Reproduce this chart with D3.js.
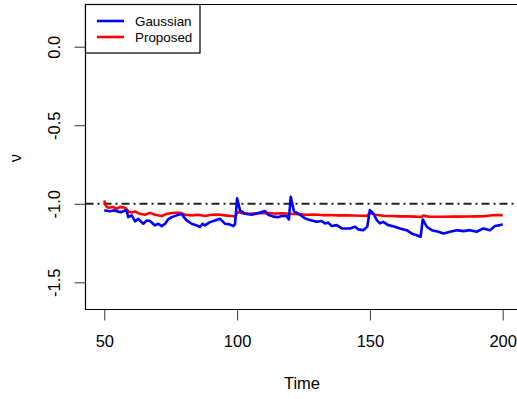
<!DOCTYPE html>
<html>
<head>
<meta charset="utf-8">
<script src="https://cdn.jsdelivr.net/npm/d3@7"></script>
<style>
  body { margin: 0; background: #fff; }
  text { font-family: "Liberation Sans", Arial, sans-serif; }
</style>
</head>
<body>
<div id="main-vis"></div>
<script>
// values (time, nu)
const gaussT = [50, 51, 52, 53, 54, 55, 56.5, 57.5, 58.4, 59, 60.3, 61.6, 62.8, 64.7, 66, 67.2, 69.1, 70.3, 71.6, 72.9,
  74, 75.4, 77.3, 79.1, 80, 81, 82.9, 84.8, 86, 87, 87.9, 89.8, 91.7, 93.6, 95.4, 97.3, 98.6, 99.2, 100, 101.1,
  103, 105.5, 108, 110.5, 111.7, 113.6, 115.5, 116.8, 118.7, 119.5, 120.2, 121.4, 123, 125.6, 127.4, 130, 131.8, 133.1, 134.3, 135.6,
  137.5, 139.4, 142.5, 144.4, 145.6, 147.5, 149, 150, 151.3, 152.6, 153.8, 155, 156.9, 159.4, 161.3, 163.8, 165.7, 167.6, 169.1, 169.9,
  171.4, 173.3, 175.8, 177.7, 180.2, 182.7, 185.2, 187.7, 190.2, 192.7, 195.2, 197.1, 199, 200]
const gaussV = [-1.042, -1.045, -1.048, -1.045, -1.042, -1.05, -1.053, -1.045, -1.042, -1.085, -1.074, -1.112, -1.096, -1.127, -1.106, -1.11, -1.138, -1.127, -1.142, -1.127,
  -1.1, -1.085, -1.074, -1.064, -1.085, -1.106, -1.127, -1.138, -1.148, -1.127, -1.138, -1.117, -1.106, -1.096, -1.127, -1.132, -1.142, -1.13, -0.965, -1.042,
  -1.064, -1.07, -1.058, -1.046, -1.07, -1.082, -1.085, -1.078, -1.078, -1.1, -0.955, -1.048, -1.062, -1.093, -1.104, -1.115, -1.11, -1.125, -1.12, -1.142,
  -1.136, -1.157, -1.157, -1.146, -1.163, -1.168, -1.146, -1.04, -1.062, -1.104, -1.125, -1.115, -1.136, -1.147, -1.157, -1.168, -1.189, -1.2, -1.21, -1.1,
  -1.146, -1.168, -1.178, -1.189, -1.178, -1.168, -1.174, -1.168, -1.178, -1.157, -1.168, -1.142, -1.136, -1.131]

const propT = [50, 50.5, 51, 51.5, 53.3, 54.7, 55.9, 57.8, 59, 60.3, 61.6, 63.4, 65.3, 67.2, 69.1, 71.6, 73.5, 76.6, 78.5, 80.4,
  82.9, 85.4, 87.9, 90.4, 92.9, 95.4, 97.9, 99.5, 100, 102, 105, 108, 111, 114, 117, 120, 123, 126, 129, 132,
  135, 138, 141, 144, 147, 149, 150, 152, 155, 158, 161, 164, 167, 169.5, 170, 172, 175, 178, 181, 184,
  187, 190, 193, 196, 198, 200]
const propV = [-0.979, -1.01, -1.021, -1.025, -1.02, -1.032, -1.02, -1.025, -1.049, -1.055, -1.049, -1.064, -1.07, -1.058, -1.07, -1.078, -1.064, -1.057, -1.057, -1.07,
  -1.074, -1.07, -1.078, -1.07, -1.068, -1.074, -1.078, -1.08, -1.053, -1.06, -1.064, -1.06, -1.058, -1.062, -1.06, -1.064, -1.066, -1.07, -1.068, -1.072,
  -1.072, -1.074, -1.073, -1.075, -1.076, -1.077, -1.058, -1.07, -1.076, -1.078, -1.08, -1.08, -1.082, -1.084, -1.075, -1.082, -1.083, -1.083, -1.082, -1.082,
  -1.081, -1.08, -1.079, -1.073, -1.072, -1.072]

const xTicks = [50, 100, 150, 200]
const yTicks = [0, -0.5, -1, -1.5]
const refLevel = -1
const seriesNames = ['Gaussian', 'Proposed']
const seriesColors = ['#0000ff', '#ff0000']

const W = 517, H = 399
// plot region edges (right edge falls outside the picture)
const plotLeft = 85.5, plotTop = 4.5, plotBottom = 309.5, plotRight = W + 5

const x = d3.scaleLinear().domain([50, 200]).range([104.3, 502.7])
const y = d3.scaleLinear().domain([0, -1.5]).range([46.7, 282.3])

const svg = d3.select('#main-vis').append('svg')
    .attr('width', W)
    .attr('height', H)

// reference line nu = -1
svg.append('line')
    .attr('x1', plotLeft).attr('x2', plotRight)
    .attr('y1', y(refLevel)).attr('y2', y(refLevel))
    .attr('stroke', '#222')
    .attr('stroke-width', 2)
    .attr('stroke-dasharray', '8,4,2,4')

const line = d3.line()
    .x(d => x(d[0]))
    .y(d => y(d[1]))

const gauss = gaussT.map((t, i) => [t, gaussV[i]])
const prop = propT.map((t, i) => [t, propV[i]])

svg.selectAll('path.series')
    .data([prop, gauss])
    .join('path')
    .attr('class', 'series')
    .attr('d', line)
    .attr('fill', 'none')
    .attr('stroke', (d, i) => i === 0 ? seriesColors[1] : seriesColors[0])
    .attr('stroke-width', 2.6)
    .attr('stroke-linejoin', 'round')

// box (left, top, bottom)
svg.append('path')
    .attr('d', `M${plotRight},${plotTop}H${plotLeft}V${plotBottom}H${plotRight}`)
    .attr('fill', 'none')
    .attr('stroke', '#000')
    .attr('stroke-width', 1.2)

// axes
svg.append('g')
    .attr('transform', `translate(0,${plotBottom})`)
    .call(d3.axisBottom(x).tickValues(xTicks).tickSize(11).tickPadding(15).tickFormat(d => String(d)))
    .call(g => g.select('.domain').remove())
    .call(g => g.selectAll('line').attr('stroke', '#333'))
    .call(g => g.selectAll('text').attr('font-size', 16.5).attr('fill', '#000')
        .attr('font-family', '"Liberation Sans", Arial, sans-serif'))

svg.append('g')
    .attr('transform', `translate(${plotLeft},0)`)
    .call(d3.axisLeft(y).tickValues(yTicks).tickSize(11).tickFormat(d => d.toFixed(1)))
    .call(g => g.select('.domain').remove())
    .call(g => g.selectAll('line').attr('stroke', '#333'))
    .call(g => g.selectAll('text')
        .attr('transform', 'rotate(-90)')
        .attr('x', 0)
        .attr('y', -31)
        .attr('dy', '0.35em')
        .attr('text-anchor', 'middle')
        .attr('font-size', 16.5)
        .attr('fill', '#000')
        .attr('font-family', '"Liberation Sans", Arial, sans-serif'))

// axis titles
svg.append('text')
    .attr('x', 302).attr('y', 389)
    .attr('text-anchor', 'middle')
    .attr('font-size', 16.5)
    .text('Time')

svg.append('text')
    .attr('transform', 'translate(15,158) rotate(-90)')
    .attr('dy', '0.35em')
    .attr('text-anchor', 'middle')
    .attr('font-size', 16.5)
    .text('ν')

// legend
const legend = svg.append('g')
legend.append('rect')
    .attr('x', plotLeft).attr('y', plotTop)
    .attr('width', 114.5).attr('height', 48.5)
    .attr('fill', '#fff')
    .attr('stroke', '#000')
    .attr('stroke-width', 1.2)

const items = legend.selectAll('g.item')
    .data(seriesNames)
    .join('g')
    .attr('class', 'item')
    .attr('transform', (d, i) => `translate(0,${21 + i * 16})`)

items.append('line')
    .attr('x1', 97).attr('x2', 124)
    .attr('stroke', (d, i) => seriesColors[i])
    .attr('stroke-width', 2.6)

items.append('text')
    .attr('x', 135)
    .attr('dy', '0.35em')
    .attr('font-size', 13.4)
    .text(d => d)
</script>
</body>
</html>
